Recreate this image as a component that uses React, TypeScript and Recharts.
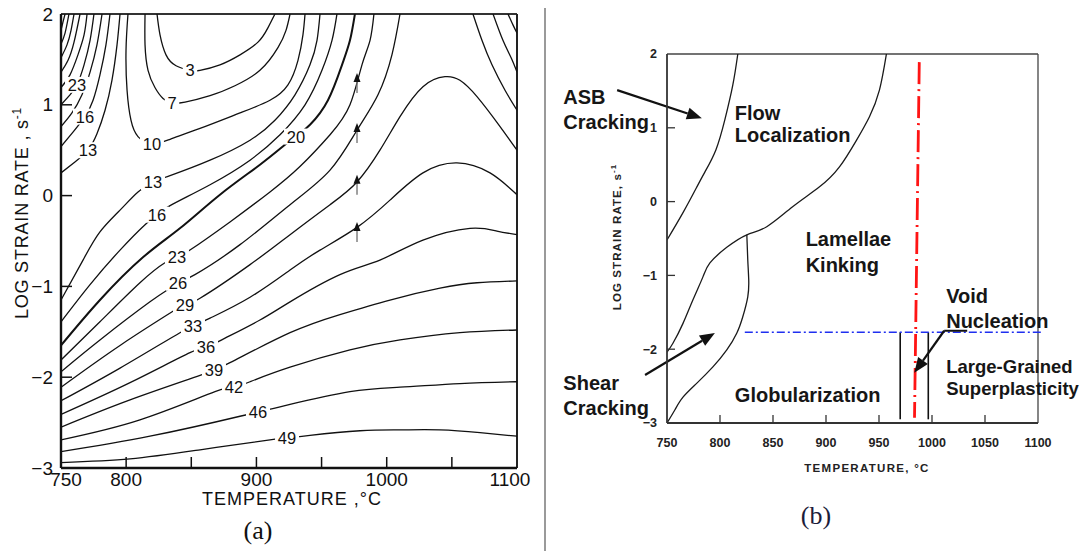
import React from 'react';
import { LineChart, Line, XAxis, YAxis, ReferenceDot, ReferenceLine } from 'recharts';

type Pt = [number, number];

// ---------- panel (a): efficiency contours, [temperature °C, log strain rate] ----------
const corner13: Pt[] = [[750, 0.25], [760.7, 0.37], [770.7, 0.5], [777.6, 0.68], [783.8, 0.94], [789.1, 1.27], [793, 1.66], [795.3, 2]];
const corner16: Pt[] = [[750, 0.54], [759.2, 0.7], [768.4, 0.87], [774.6, 1.05], [779.9, 1.33], [784.5, 1.66], [787.6, 2]];
const corner20: Pt[] = [[750, 0.76], [758.4, 0.91], [766.1, 1.11], [772.3, 1.36], [777.6, 1.66], [781.5, 2]];
const corner23: Pt[] = [[750, 1.0], [756.9, 1.11], [762.3, 1.22], [767.7, 1.44], [772.3, 1.71], [775.3, 2]];
const corner26: Pt[] = [[750, 1.19], [756.9, 1.33], [763, 1.55], [767.7, 1.77], [770, 2]];
const corner29: Pt[] = [[750, 1.36], [755.4, 1.49], [760, 1.69], [764.6, 2]];
const corner33: Pt[] = [[750, 1.52], [754.6, 1.66], [757.7, 1.82], [760, 2]];
const corner36: Pt[] = [[750, 1.67], [753.1, 1.79], [756.1, 2]];
const corner39: Pt[] = [[750, 1.82], [751.5, 1.91], [753.1, 2]];

const eff3: Pt[] = [[823.7, 2], [826, 1.77], [830.6, 1.55], [838.3, 1.43], [849, 1.38], [856.7, 1.38], [872, 1.44], [887.4, 1.55], [901.2, 1.69], [908.9, 1.85], [914.2, 2]];
const eff7: Pt[] = [[814.5, 2], [814.5, 1.66], [816.8, 1.38], [822.1, 1.19], [828.3, 1.07], [835.2, 1.02], [845.2, 1.03], [864.4, 1.1], [883.5, 1.21], [902.7, 1.38], [916.5, 1.63], [922.7, 1.82], [925.8, 2]];
const eff10: Pt[] = [[801.4, 2], [799.9, 1.6], [800.7, 1.16], [803.7, 0.83], [809.1, 0.65], [819.8, 0.57], [833.7, 0.62], [856.7, 0.74], [887.4, 0.91], [910.4, 1.05], [924.2, 1.22], [931.9, 1.49], [935.7, 1.77], [937.3, 2]];
const eff13: Pt[] = [[750, -1.15], [766.9, -0.71], [779.9, -0.4], [795.3, -0.16], [809.1, 0.04], [820.6, 0.15], [833.7, 0.22], [864.4, 0.39], [895.1, 0.61], [914.2, 0.83], [929.6, 1.11], [941.1, 1.44], [946.5, 1.71], [948.8, 2]];
const eff16: Pt[] = [[750, -1.39], [772.3, -0.98], [795.3, -0.6], [814.5, -0.32], [823.7, -0.21], [833.7, -0.11], [864.4, 0.12], [895.1, 0.39], [918.1, 0.67], [937.3, 1.0], [950.3, 1.38], [958, 1.71], [961.8, 2]];
const eff20: Pt[] = [[750, -1.65], [779.9, -1.15], [812.9, -0.68], [841.3, -0.36], [872, 0.01], [902.7, 0.34], [921.9, 0.56], [930.4, 0.65], [941.1, 0.78], [954.9, 1.05], [965.7, 1.44], [971.8, 1.71], [975.6, 2]];
const eff23: Pt[] = [[750, -1.81], [779.9, -1.39], [810.6, -0.96], [829.8, -0.74], [839, -0.68], [849, -0.6], [879.7, -0.29], [910.4, 0.04], [933.4, 0.32], [956.5, 0.67], [971.8, 1.0], [981, 1.44], [987.2, 1.71], [990.2, 2]];
const eff26: Pt[] = [[750, -1.94], [779.9, -1.59], [818.3, -1.17], [833.7, -1.02], [839.8, -0.96], [852.8, -0.87], [887.4, -0.54], [925.8, -0.1], [956.5, 0.28], [977.2, 0.72], [993.3, 1.11], [1004, 1.55], [1010.2, 2]];
const eff29: Pt[] = [[750, -2.11], [795.3, -1.65], [837.5, -1.26], [845.2, -1.2], [856.7, -1.13], [895.1, -0.76], [925.8, -0.43], [956.5, -0.1], [977.2, 0.15], [994.8, 0.5], [1010.2, 0.87], [1027.8, 1.2], [1044.7, 1.31], [1056.2, 1.27], [1069.3, 1.09], [1087, 0.76], [1100, 0.5]];
const eff33: Pt[] = [[750, -2.26], [795.3, -1.9], [841.3, -1.51], [851.3, -1.44], [864.4, -1.35], [895.1, -1.12], [925.8, -0.82], [948.8, -0.6], [977.2, -0.35], [1002.5, -0.05], [1027.8, 0.25], [1053.9, 0.36], [1079.3, 0.25], [1100, 0.01]];
const eff36: Pt[] = [[750, -2.41], [803, -2.06], [849, -1.73], [861.3, -1.67], [875.9, -1.57], [902.7, -1.37], [925.8, -1.17], [964.1, -0.87], [994.8, -0.71], [1027.8, -0.49], [1063.9, -0.36], [1084.6, -0.39], [1100, -0.43]];
const eff39: Pt[] = [[750, -2.55], [803, -2.25], [856.7, -1.98], [867.4, -1.92], [879.7, -1.84], [925.8, -1.51], [964.1, -1.31], [1002.5, -1.15], [1040.9, -1.02], [1069.3, -0.96], [1100, -0.94]];
const eff42: Pt[] = [[750, -2.69], [810.6, -2.47], [868.2, -2.16], [882.8, -2.11], [895.1, -2.05], [925.8, -1.89], [971.8, -1.7], [1010.2, -1.59], [1056.2, -1.51], [1100, -1.48]];
const eff46: Pt[] = [[750, -2.82], [818.3, -2.65], [887.4, -2.43], [901.2, -2.38], [914.2, -2.34], [925.8, -2.3], [971.8, -2.16], [1010.2, -2.11], [1056.2, -2.07], [1100, -2.05]];
const eff49: Pt[] = [[750, -2.94], [803, -2.9], [856.7, -2.8], [910.4, -2.69], [923.5, -2.67], [941.1, -2.64], [979.5, -2.59], [1010.2, -2.58], [1040.9, -2.58], [1071.6, -2.61], [1100, -2.65]];
const saddle1: Pt[] = [[1066.2, 2], [1073.1, 1.71], [1080.8, 1.44], [1090.8, 1.16], [1100, 0.94]];
const saddle2: Pt[] = [[1081.6, 2], [1089.2, 1.71], [1095.4, 1.52], [1100, 1.36]];
const saddle3: Pt[] = [[1093.1, 2], [1096.9, 1.88], [1100, 1.79]];

const contourTagsA = [
  { text: '3', t: 849, r: 1.38 }, { text: '7', t: 835.2, r: 1.02 }, { text: '10', t: 819.8, r: 0.57 },
  { text: '13', t: 770.7, r: 0.5 }, { text: '16', t: 768.4, r: 0.87 }, { text: '23', t: 762.3, r: 1.22 },
  { text: '13', t: 820.6, r: 0.15 }, { text: '16', t: 823.7, r: -0.21 }, { text: '20', t: 930.4, r: 0.65 },
  { text: '23', t: 839, r: -0.68 }, { text: '26', t: 839.8, r: -0.96 }, { text: '29', t: 845.2, r: -1.2 },
  { text: '33', t: 851.3, r: -1.44 }, { text: '36', t: 861.3, r: -1.67 }, { text: '39', t: 867.4, r: -1.92 },
  { text: '42', t: 882.8, r: -2.11 }, { text: '46', t: 901.2, r: -2.38 }, { text: '49', t: 923.5, r: -2.67 },
];
const arrowTipsA: Pt[] = [[977.2, 1.35], [977.2, 0.8], [977.2, 0.23], [977.2, -0.29]];

const xTicksA = [750, 800, 850, 900, 950, 1000, 1050, 1100];
const xTickLabelsA = [750, 800, 900, 1000, 1100];
const yTicksA = [2, 1, 0, -1, -2, -3];

// ---------- panel (b): processing map ----------
const flowLeft: Pt[] = [[816.8, 2], [812.1, 1.58], [804.6, 1.11], [796.1, 0.7], [785.7, 0.4], [778.2, 0.2], [765.1, -0.15], [750, -0.52]];
const flowRight: Pt[] = [[957, 2], [950.4, 1.51], [941, 1.15], [928.7, 0.83], [912.7, 0.47], [893.9, 0.2], [868.5, -0.07], [844.1, -0.34], [825.3, -0.45], [806.4, -0.62], [790.5, -0.83], [783.9, -1.02], [774.5, -1.33], [765.1, -1.65], [755.6, -1.92], [750, -2.04]];
const globLeft: Pt[] = [[825.3, -0.45], [826.2, -0.79], [827.1, -1.06], [826.2, -1.29], [821.5, -1.56], [815.9, -1.78], [806.4, -2.01], [793.3, -2.24], [778.2, -2.46], [765.1, -2.65], [757.5, -2.82], [750, -3]];
const betaTransus: Pt[] = [[988, 1.89], [983.5, -2.93]];
const wallLeft: Pt[] = [[970, -1.77], [970, -2.95]];
const wallRight: Pt[] = [[996.5, -1.77], [996.5, -2.95]];
const superplasticRate = -1.77;
const superplasticFrom = 823.4;
const superplasticTo = 1103.7;

const arrowsB = [
  { from: [703, 1.51], to: [782.9, 1.13] },
  { from: [729.3, -2.35], to: [795.2, -1.78] },
  { from: [1011.5, -1.75], to: [983.3, -2.32] },
];
const voidLeader: Pt[] = [[1033.2, -1.75], [1011.5, -1.75]];

const regionNamesB = [
  { text: 'ASB', t: 652.2, r: 1.42 }, { text: 'Cracking', t: 652.2, r: 1.08 },
  { text: 'Flow', t: 814, r: 1.21 }, { text: 'Localization', t: 814, r: 0.9 },
  { text: 'Lamellae', t: 880.8, r: -0.51 }, { text: 'Kinking', t: 880.8, r: -0.86 },
  { text: 'Globularization', t: 814, r: -2.62 },
  { text: 'Shear', t: 652.2, r: -2.46 }, { text: 'Cracking', t: 652.2, r: -2.8 },
  { text: 'Void', t: 1013.4, r: -1.28 }, { text: 'Nucleation', t: 1013.4, r: -1.62 },
];
const smallNamesB = [
  { text: 'Large-Grained', t: 1013.4, r: -2.23 },
  { text: 'Superplasticity', t: 1013.4, r: -2.53 },
];

const xTicksB = [750, 800, 850, 900, 950, 1000, 1050, 1100];
const yTicksB = [2, 1, 0, -1, -2, -3];

const contoursA = [
  { id: 'c13', pts: corner13 }, { id: 'c16', pts: corner16 }, { id: 'c20', pts: corner20 },
  { id: 'c23', pts: corner23 }, { id: 'c26', pts: corner26 }, { id: 'c29', pts: corner29 },
  { id: 'c33', pts: corner33 }, { id: 'c36', pts: corner36 }, { id: 'c39', pts: corner39 },
  { id: 'e3', pts: eff3 }, { id: 'e7', pts: eff7 }, { id: 'e10', pts: eff10 },
  { id: 'e13', pts: eff13 }, { id: 'e16', pts: eff16 }, { id: 'e20', pts: eff20, bold: true },
  { id: 'e23', pts: eff23 }, { id: 'e26', pts: eff26 }, { id: 'e29', pts: eff29 },
  { id: 'e33', pts: eff33 }, { id: 'e36', pts: eff36 }, { id: 'e39', pts: eff39 },
  { id: 'e42', pts: eff42 }, { id: 'e46', pts: eff46 }, { id: 'e49', pts: eff49 },
  { id: 's1', pts: saddle1 }, { id: 's2', pts: saddle2 }, { id: 's3', pts: saddle3 },
];

const FONT = '"Liberation Sans", Arial, Helvetica, sans-serif';
const INK = '#111';

const toRows = (pts: Pt[]) => pts.map(([t, r]) => ({ t, r }));
const minus = (v: number) => (v < 0 ? '\u2212' + Math.abs(v) : String(v));

const XTickA = (props: any) => {
  const { x, y, payload } = props;
  const v = payload.value;
  const dx = v === 750 ? 5 : v === 1100 ? -7 : 0;
  return (
    <g>
      {v > 750 && v < 1100 && <line x1={x} x2={x} y1={y} y2={y - 11} stroke={INK} strokeWidth={1.5} />}
      {xTickLabelsA.includes(v) && (
        <text x={x + dx} y={y + 18} textAnchor="middle" fontSize={19} fontFamily={FONT} fill={INK}>{v}</text>
      )}
    </g>
  );
};

const YTickA = (props: any) => {
  const { x, y, payload } = props;
  const v = payload.value;
  return (
    <g>
      {v < 2 && v > -3 && <line x1={x} x2={x + 11} y1={y} y2={y} stroke={INK} strokeWidth={1.5} />}
      <text x={x - 8} y={y} dy="0.35em" textAnchor="end" fontSize={19} fontFamily={FONT} fill={INK}>{minus(v)}</text>
    </g>
  );
};

const XTickB = (props: any) => {
  const { x, y, payload } = props;
  const v = payload.value;
  return (
    <g>
      {v > 750 && v < 1100 && <line x1={x} x2={x} y1={y} y2={y - 8} stroke="#333" strokeWidth={1.3} />}
      <text x={x} y={y + 24} textAnchor="middle" fontSize={12.5} fontWeight="bold" fontFamily={FONT} fill="#222">{v}</text>
    </g>
  );
};

const YTickB = (props: any) => {
  const { x, y, payload } = props;
  const v = payload.value;
  return (
    <g>
      {v < 2 && v > -3 && <line x1={x} x2={x + 8} y1={y} y2={y} stroke="#333" strokeWidth={1.3} />}
      <text x={x - 10} y={y} dy="0.35em" textAnchor="end" fontSize={12.5} fontWeight="bold" fontFamily={FONT} fill="#222">{minus(v)}</text>
    </g>
  );
};

const tagShape = (text: string) => (p: any) => {
  const w = text.length * 9.5 + 5;
  return (
    <g>
      <rect x={p.cx - w / 2} y={p.cy - 8} width={w} height={16} fill="#fff" />
      <text x={p.cx} y={p.cy} dy="0.36em" textAnchor="middle" fontSize={16.5} fontFamily={FONT} fill={INK}>{text}</text>
    </g>
  );
};

const arrowGlyph = (p: any) => (
  <g>
    <line x1={p.cx} x2={p.cx} y1={p.cy + 6} y2={p.cy + 20} stroke="#777" strokeWidth={1.4} />
    <polygon points={`${p.cx},${p.cy} ${p.cx - 3.5},${p.cy + 9} ${p.cx + 3.5},${p.cy + 9}`} fill={INK} />
  </g>
);

const nameShape = (text: string, size: number) => (p: any) => (
  <text x={p.cx} y={p.cy} dy="0.36em" fontSize={size} fontWeight="bold" fontFamily={FONT} fill="#161616">{text}</text>
);

const ArrowLine = (p: any) => {
  const { x1, y1, x2, y2 } = p;
  const a = Math.atan2(y2 - y1, x2 - x1);
  const L = 15;
  const W = 6;
  const bx = x2 - L * Math.cos(a);
  const by = y2 - L * Math.sin(a);
  const nx = -Math.sin(a) * W;
  const ny = Math.cos(a) * W;
  return (
    <g>
      <line x1={x1} y1={y1} x2={bx} y2={by} stroke={INK} strokeWidth={2.2} />
      <polygon points={`${x2},${y2} ${bx + nx},${by + ny} ${bx - nx},${by - ny}`} fill={INK} />
    </g>
  );
};

function PanelA() {
  return (
    <LineChart width={540} height={551} margin={{ top: 14, right: 23, bottom: 53, left: 0 }}>
      <XAxis dataKey="t" type="number" domain={[750, 1100]} allowDataOverflow ticks={xTicksA} interval={0}
        tick={<XTickA />} tickLine={false} tickSize={0} tickMargin={0} height={30}
        axisLine={{ stroke: INK, strokeWidth: 2.4 }} />
      <YAxis type="number" domain={[-3, 2]} allowDataOverflow ticks={yTicksA} interval={0}
        tick={<YTickA />} tickLine={false} tickSize={0} tickMargin={0} width={61}
        axisLine={{ stroke: INK, strokeWidth: 2.4 }} />
      <ReferenceLine y={2} stroke="#333" strokeWidth={2} />
      <ReferenceLine x={1100} stroke="#222" strokeWidth={2} />
      {contoursA.map((c) => (
        <Line key={c.id} data={toRows(c.pts)} dataKey="r" type="natural" stroke={INK}
          strokeWidth={c.bold ? 2.0 : 1.3} dot={false} activeDot={false} isAnimationActive={false} />
      ))}
      {contourTagsA.map((c, i) => (
        <ReferenceDot key={'tag' + i} x={c.t} y={c.r} r={0} ifOverflow="visible" shape={tagShape(c.text)} />
      ))}
      {arrowTipsA.map(([t, r], i) => (
        <ReferenceDot key={'arr' + i} x={t} y={r} r={0} ifOverflow="visible" shape={arrowGlyph} />
      ))}
    </LineChart>
  );
}

function PanelB() {
  return (
    <LineChart width={547} height={551} margin={{ top: 54, right: 49, bottom: 98, left: 0 }}>
      <XAxis dataKey="t" type="number" domain={[750, 1100]} allowDataOverflow ticks={xTicksB} interval={0}
        tick={<XTickB />} tickLine={false} tickSize={0} tickMargin={0} height={30}
        axisLine={{ stroke: '#333', strokeWidth: 1.8 }} />
      <YAxis type="number" domain={[-3, 2]} allowDataOverflow ticks={yTicksB} interval={0}
        tick={<YTickB />} tickLine={false} tickSize={0} tickMargin={0} width={127}
        axisLine={{ stroke: '#333', strokeWidth: 1.8 }} />
      <ReferenceLine y={2} stroke="#444" strokeWidth={1.3} />
      <ReferenceLine x={1100} stroke="#444" strokeWidth={1.3} />
      {[flowLeft, flowRight, globLeft].map((pts, i) => (
        <Line key={'b' + i} data={toRows(pts)} dataKey="r" type="natural" stroke="#1a1a1a" strokeWidth={1.3}
          dot={false} activeDot={false} isAnimationActive={false} />
      ))}
      {[wallLeft, wallRight].map((pts, i) => (
        <Line key={'w' + i} data={toRows(pts)} dataKey="r" type="linear" stroke="#111" strokeWidth={1.6}
          dot={false} activeDot={false} isAnimationActive={false} />
      ))}
      <ReferenceLine segment={[{ x: superplasticFrom, y: superplasticRate }, { x: superplasticTo, y: superplasticRate }]}
        ifOverflow="visible" stroke="#1f2ff0" strokeWidth={1.5} strokeDasharray="8 3 2 3" />
      <Line data={toRows(betaTransus)} dataKey="r" type="linear" stroke="#ff1414" strokeWidth={2.8}
        strokeDasharray="22 5 2 5" dot={false} activeDot={false} isAnimationActive={false} />
      <ReferenceLine segment={voidLeader.map(([x, y]) => ({ x, y }))} ifOverflow="visible" stroke={INK} strokeWidth={2} />
      {arrowsB.map((a, i) => (
        <ReferenceLine key={'ab' + i} segment={[{ x: a.from[0], y: a.from[1] }, { x: a.to[0], y: a.to[1] }]}
          ifOverflow="visible" shape={ArrowLine} />
      ))}
      {regionNamesB.map((n, i) => (
        <ReferenceDot key={'n' + i} x={n.t} y={n.r} r={0} ifOverflow="visible" shape={nameShape(n.text, 20)} />
      ))}
      {smallNamesB.map((n, i) => (
        <ReferenceDot key={'s' + i} x={n.t} y={n.r} r={0} ifOverflow="visible" shape={nameShape(n.text, 18.5)} />
      ))}
    </LineChart>
  );
}

export default function App() {
  return (
    <div style={{ position: 'absolute', left: 0, top: 0, width: 1087, height: 551, background: '#fff', overflow: 'hidden' }}>
      <div style={{ position: 'absolute', left: 0, top: 0 }}>
        <PanelA />
      </div>
      <div style={{ position: 'absolute', left: 540, top: 0 }}>
        <PanelB />
      </div>
      <svg width={1087} height={551} style={{ position: 'absolute', left: 0, top: 0, pointerEvents: 'none' }}>
        <line x1={545} y1={8} x2={545} y2={551} stroke="#9a9a9a" strokeWidth={2} />
        <text x={292} y={505} textAnchor="middle" fontSize={18} letterSpacing={1} fontFamily={FONT} fill={INK}>TEMPERATURE ,°C</text>
        <text transform="translate(28,213) rotate(-90)" textAnchor="middle" fontSize={18} letterSpacing={0.8} fontFamily={FONT} fill={INK}>
          LOG STRAIN RATE , s<tspan dy={-7} fontSize={12}>-1</tspan>
        </text>
        <text x={258} y={539} textAnchor="middle" fontSize={26} fontFamily='"Liberation Serif", "Times New Roman", serif' fill={INK}>(a)</text>
        <text x={867} y={472} textAnchor="middle" fontSize={11.5} fontWeight="bold" letterSpacing={1.3} fontFamily={FONT} fill="#222">TEMPERATURE, °C</text>
        <text transform="translate(621,237) rotate(-90)" textAnchor="middle" fontSize={11.5} fontWeight="bold" letterSpacing={1.1} fontFamily={FONT} fill="#222">
          LOG STRAIN RATE, s<tspan dy={-5} fontSize={8}>-1</tspan>
        </text>
        <text x={816} y={524} textAnchor="middle" fontSize={26} fontFamily='"Liberation Serif", "Times New Roman", serif' fill="#1c1c3a">(b)</text>
      </svg>
    </div>
  );
}
